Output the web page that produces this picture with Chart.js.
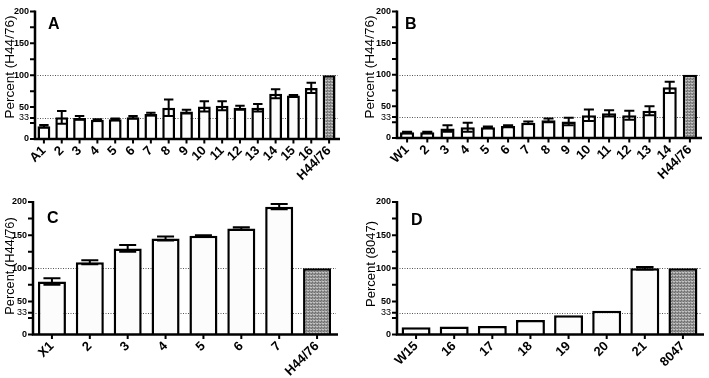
<!DOCTYPE html>
<html>
<head>
<meta charset="utf-8">
<script src="https://cdn.jsdelivr.net/npm/chart.js@4/dist/chart.umd.min.js"></script>
<style>
  html, body { margin:0; padding:0; background:#fff; }
  #wrap { position:relative; width:709px; height:378px; overflow:hidden; }
  .panel { position:absolute; }
  .letter { position:absolute; font-family:"Liberation Sans", Arial, sans-serif; font-weight:bold; font-size:16px; color:#000; line-height:1; }
  .ytitle { position:absolute; font-family:"Liberation Sans", Arial, sans-serif; font-weight:normal; color:#000; line-height:1; white-space:nowrap;
            transform: translate(-50%,-50%) rotate(-90deg); }
</style>
</head>
<body>
<div id="wrap">
  <div class="panel" style="left:0;top:0;width:354px;height:189px;"><canvas id="cA"></canvas></div>
  <div class="panel" style="left:354px;top:0;width:355px;height:189px;"><canvas id="cB"></canvas></div>
  <div class="panel" style="left:0;top:189px;width:354px;height:189px;"><canvas id="cC"></canvas></div>
  <div class="panel" style="left:354px;top:189px;width:355px;height:189px;"><canvas id="cD"></canvas></div>
  <div class="letter" style="left:48px;top:16px;">A</div>
  <div class="letter" style="left:405px;top:16px;">B</div>
  <div class="letter" style="left:47px;top:210px;">C</div>
  <div class="letter" style="left:411px;top:212px;">D</div>
  <div class="ytitle" id="tA" style="left:9.5px;top:66.5px;font-size:13.5px;"></div>
  <div class="ytitle" id="tB" style="left:370px;top:66.5px;font-size:13.5px;"></div>
  <div class="ytitle" id="tC" style="left:9.5px;top:265.5px;font-size:12.8px;"></div>
  <div class="ytitle" id="tD" style="left:370px;top:264px;font-size:13px;"></div>
</div>
<script>
// ---------------- DATA ----------------
const labelsA = ["A1","2","3","4","5","6","7","8","9","10","11","12","13","14","15","16","H44/76"];
const valuesA = [20,34,33,30,31,34,39,49,43,51,52,49,49,71,68,80,100];
const errorsA = [2,10,3,1,1,2,2,13,3,8,7,3,6,7,1,8,0];

const labelsB = ["W1","2","3","4","5","6","7","8","9","10","11","12","13","14","H44/76"];
const valuesB = [9,9,15,17,17,19,24,28,26,36,39,36,43,80,100];
const errorsB = [1,1,5,7,1,1,2,3,6,9,5,7,7,9,0];

const labelsC = ["X1","2","3","4","5","6","7","H44/76"];
const valuesC = [80,109,130,145,149,160,193,100];
const errorsC = [5,3,5,3,1,2,4,0];

const labelsD = ["W15","16","17","18","19","20","21","8047"];
const valuesD = [11,12,13,22,29,36,100,100];
const errorsD = [0,0,0,0,0,0,2,0];

const yTicks = [0,25,33,50,75,100,125,150,175,200];
const yLabelled = [0,33,50,100,150,200];
const refLines = [33,100];
const titleAB = "Percent (H44/76)";
const titleD = "Percent (8047)";

// ---------------- DRAWING ----------------
const FONT = "'Liberation Sans', Arial, sans-serif";

document.getElementById('tA').textContent = titleAB;
document.getElementById('tB').textContent = titleAB;
document.getElementById('tC').textContent = titleAB;
document.getElementById('tD').textContent = titleD;

function makePattern() {
  const c = document.createElement('canvas');
  c.width = 3; c.height = 3;
  const g = c.getContext('2d');
  g.fillStyle = '#929292'; g.fillRect(0,0,3,3);
  g.fillStyle = '#6e6e6e'; g.fillRect(0,0,1,1); g.fillRect(2,1,1,1);
  g.fillStyle = '#c4c4c4'; g.fillRect(1,2,2,1);
  return g.createPattern(c, 'repeat');
}

const refLinePlugin = {
  id: 'refLines',
  beforeDatasetsDraw(chart) {
    const {ctx, chartArea, scales} = chart;
    ctx.save();
    ctx.strokeStyle = '#555';
    ctx.lineWidth = 1;
    ctx.setLineDash([1,1.5]);
    refLines.forEach(v => {
      const y = Math.round(scales.y.getPixelForValue(v)) + 0.5;
      ctx.beginPath();
      ctx.moveTo(chartArea.left, y);
      ctx.lineTo(chartArea.right, y);
      ctx.stroke();
    });
    ctx.restore();
  }
};

const errorBarPlugin = {
  id: 'errBars',
  afterDatasetsDraw(chart, args, opts) {
    const {ctx, scales} = chart;
    const meta = chart.getDatasetMeta(0);
    const vals = chart.data.datasets[0].data;
    const errs = opts.errors;
    ctx.save();
    ctx.strokeStyle = '#000';
    ctx.lineWidth = 2;
    meta.data.forEach((el, i) => {
      const e = errs[i];
      if (!e) return;
      const x = el.x;
      const w = el.width;
      const half = w * 0.25 + 1.5;
      const yt = scales.y.getPixelForValue(vals[i] + e);
      const yb = scales.y.getPixelForValue(vals[i] - e);
      ctx.beginPath();
      ctx.moveTo(x, yt); ctx.lineTo(x, yb);
      ctx.moveTo(x - half, yt); ctx.lineTo(x + half, yt);
      ctx.moveTo(x - half, yb); ctx.lineTo(x + half, yb);
      ctx.stroke();
    });
    ctx.restore();
  }
};

// axes and tick marks drawn from the chart's own scales
const axesPlugin = {
  id: 'axesDraw',
  afterDatasetsDraw(chart) {
    const {ctx, chartArea, scales} = chart;
    const xs = scales.x, ys = scales.y;
    const left = chartArea.left, bottom = ys.getPixelForValue(0), top = ys.getPixelForValue(200);
    ctx.save();
    ctx.strokeStyle = '#000';
    ctx.lineCap = 'butt';
    ctx.lineWidth = 2;
    ctx.beginPath();
    yTicks.forEach(v => {
      const y = ys.getPixelForValue(v);
      ctx.moveTo(left - 5, y); ctx.lineTo(left, y);
    });
    chart.data.labels.forEach((l, i) => {
      const x = xs.getPixelForValue(i);
      ctx.moveTo(x, bottom); ctx.lineTo(x, bottom + 4.5);
    });
    ctx.stroke();
    ctx.lineWidth = 2.5;
    ctx.beginPath();
    ctx.moveTo(left, top - 1); ctx.lineTo(left, bottom + 1.2);
    ctx.moveTo(left - 1.2, bottom); ctx.lineTo(chartArea.right + 2, bottom);
    ctx.stroke();
    ctx.restore();
  }
};

function makePanel(id, labels, values, errors, geo) {
  const pattern = makePattern();
  const n = labels.length;
  const fills = labels.map((l, i) => i === n - 1 ? pattern : '#fcfcfc');
  new Chart(document.getElementById(id), {
    type: 'bar',
    data: {
      labels: labels,
      datasets: [{
        data: values,
        backgroundColor: fills,
        borderColor: '#000',
        borderWidth: 2.5,
        borderSkipped: 'start',
        barPercentage: geo.barPct,
        categoryPercentage: 1.0
      }]
    },
    options: {
      responsive: false,
      animation: false,
      devicePixelRatio: 1,
      layout: { padding: { left: 0, right: geo.padRight, top: geo.padTop, bottom: 0 } },
      plugins: {
        legend: { display: false },
        tooltip: { enabled: false },
        errBars: { errors: errors }
      },
      scales: {
        x: {
          type: 'category',
          offset: true,
          grid: { display: false, drawTicks: false },
          border: { display: false },
          ticks: {
            color: '#000', maxRotation: 45, minRotation: 45, autoSkip: false, padding: 4,
            font: { family: FONT, size: geo.xFont, weight: 'bold' }
          },
          afterFit(scale) { scale.height = geo.xHeight; }
        },
        y: {
          min: 0, max: 200,
          afterBuildTicks(scale) { scale.ticks = yTicks.map(v => ({ value: v })); },
          grid: { display: false, drawTicks: false },
          border: { display: false },
          ticks: {
            color: '#000', padding: 6,
            callback: (v) => yLabelled.includes(v) ? String(v) : '',
            font: (ctx) => ctx.tick && ctx.tick.value === 33
              ? { family: FONT, size: 9, weight: 'normal' }
              : { family: FONT, size: 9, weight: 'bold' }
          },
          title: { display: false },
          afterFit(scale) { scale.width = geo.left; }
        }
      }
    },
    plugins: [refLinePlugin, errorBarPlugin, axesPlugin]
  });
}

function sizeCanvas(id, w, h) {
  const c = document.getElementById(id);
  c.width = w; c.height = h;
  c.style.width = w + 'px'; c.style.height = h + 'px';
}
sizeCanvas('cA', 354, 189);
sizeCanvas('cB', 355, 189);
sizeCanvas('cC', 354, 189);
sizeCanvas('cD', 355, 189);

makePanel('cA', labelsA, valuesA, errorsA,
  { left: 35, padRight: 16, padTop: 6.5, xHeight: 50, barPct: 0.72, xFont: 13 });
makePanel('cB', labelsB, valuesB, errorsB,
  { left: 43, padRight: 9, padTop: 7, xHeight: 51, barPct: 0.7, xFont: 13 });
makePanel('cC', labelsC, valuesC, errorsC,
  { left: 33, padRight: 18, padTop: 13, xHeight: 43.5, barPct: 0.74, xFont: 13 });
makePanel('cD', labelsD, valuesD, errorsD,
  { left: 43, padRight: 7, padTop: 13, xHeight: 43.5, barPct: 0.76, xFont: 13 });
</script>
</body>
</html>
